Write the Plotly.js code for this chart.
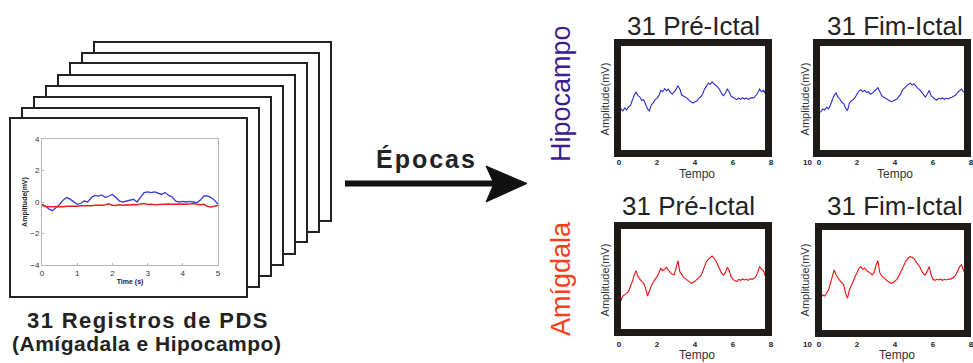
<!DOCTYPE html>
<html><head><meta charset="utf-8">
<script src="https://cdn.plot.ly/plotly-3.0.1.min.js"></script>
<style>html,body{margin:0;padding:0;background:#fff;}#chart{width:973px;height:363px;}</style>
</head><body><div id="chart"></div>
<script>
// ---------- data ----------
const timeS = [0.0,0.1,0.2,0.3,0.4,0.5,0.6,0.7,0.8,0.9,1.0,1.1,1.2,1.3,1.4,1.5,1.6,1.7,1.8,1.9,2.0,2.1,2.2,2.3,2.4,2.5,2.6,2.7,2.8,2.9,3.0,3.1,3.2,3.3,3.4,3.5,3.6,3.7,3.8,3.9,4.0,4.1,4.2,4.3,4.4,4.5,4.6,4.7,4.8,4.9,5.0];
const blueRecord = [-0.15,-0.25,-0.45,-0.55,-0.35,-0.15,0.12,0.28,0.18,0.0,-0.15,-0.08,0.06,0.0,0.28,0.42,0.38,0.45,0.28,0.38,0.48,0.28,0.06,0.0,0.06,0.12,0.17,0.0,0.28,0.6,0.64,0.6,0.64,0.55,0.48,0.6,0.42,0.32,0.06,0.0,0.04,0.0,0.04,0.0,-0.04,0.12,0.38,0.38,0.28,0.12,-0.15];
const redRecord = [-0.2,-0.28,-0.3,-0.32,-0.3,-0.28,-0.3,-0.27,-0.28,-0.25,-0.27,-0.24,-0.25,-0.22,-0.24,-0.21,-0.22,-0.2,-0.17,-0.12,-0.2,-0.22,-0.18,-0.2,-0.17,-0.19,-0.16,-0.18,-0.12,-0.1,-0.16,-0.14,-0.17,-0.15,-0.13,-0.14,-0.12,-0.14,-0.12,-0.14,-0.12,-0.15,-0.13,-0.1,-0.14,-0.18,-0.15,-0.28,-0.32,-0.25,-0.22];

const tempo = [0.0,0.1,0.2,0.3,0.4,0.5,0.6,0.7,0.8,0.9,1.0,1.1,1.2,1.3,1.4,1.5,1.6,1.7,1.8,1.9,2.0,2.1,2.2,2.3,2.4,2.5,2.6,2.7,2.8,2.9,3.0,3.1,3.2,3.3,3.4,3.5,3.6,3.7,3.8,3.9,4.0,4.1,4.2,4.3,4.4,4.5,4.6,4.7,4.8,4.9,5.0,5.1,5.2,5.3,5.4,5.5,5.6,5.7,5.8,5.9,6.0,6.1,6.2,6.3,6.4,6.5,6.6,6.7,6.8,6.9,7.0,7.1,7.2,7.3,7.4,7.5,7.6,7.7,7.8];
const hipoPre = [-0.38,-0.30,-0.36,-0.27,-0.33,-0.24,-0.20,-0.05,0.12,0.20,0.10,0.06,-0.04,-0.02,-0.18,-0.30,-0.36,-0.18,-0.12,-0.02,0.02,0.10,0.26,0.22,0.31,0.25,0.30,0.20,0.15,0.22,0.28,0.40,0.30,0.12,0.08,0.04,0.02,-0.05,-0.08,-0.12,-0.08,-0.06,0.02,0.06,0.15,0.30,0.38,0.48,0.44,0.52,0.46,0.42,0.36,0.28,0.16,0.10,0.18,0.30,0.22,0.08,0.04,0.02,-0.02,0.03,-0.01,0.04,0.00,0.03,-0.02,0.02,0.04,0.03,0.10,0.18,0.30,0.22,0.26,0.15,0.08];
const hipoFim = [-0.42,-0.38,-0.30,-0.33,-0.25,-0.30,-0.18,0.00,0.12,0.18,0.05,0.00,-0.10,-0.14,-0.28,-0.35,-0.12,-0.06,-0.02,0.05,0.15,0.24,0.28,0.22,0.26,0.20,0.22,0.14,0.18,0.22,0.28,0.34,0.20,0.10,0.06,0.02,-0.02,-0.05,-0.08,-0.06,-0.02,0.00,0.08,0.14,0.28,0.34,0.40,0.44,0.48,0.42,0.46,0.38,0.32,0.28,0.20,0.14,0.06,0.15,0.26,0.10,0.04,0.00,-0.03,0.02,0.00,0.03,-0.01,0.02,0.00,0.04,0.05,0.08,0.12,0.20,0.25,0.30,0.22,0.16,0.12];
const amigPre = [-0.50,-0.62,-0.48,-0.45,-0.40,-0.34,-0.22,-0.05,0.15,0.28,0.10,0.02,-0.05,-0.10,-0.25,-0.48,-0.30,-0.18,-0.06,0.02,0.10,0.22,0.35,0.28,0.32,0.38,0.30,0.22,0.18,0.15,0.35,0.58,0.25,0.15,0.08,0.04,0.00,-0.06,-0.10,-0.07,-0.04,0.02,0.06,0.12,0.25,0.42,0.55,0.62,0.68,0.72,0.65,0.58,0.45,0.30,0.20,0.15,0.22,0.38,0.28,0.10,0.02,-0.02,-0.05,0.02,-0.01,0.03,0.00,0.02,-0.01,0.04,0.02,0.05,0.10,0.22,0.40,0.32,0.28,0.12,0.05];
const amigFim = [-0.62,-0.55,-0.45,-0.48,-0.38,-0.30,-0.10,0.10,0.30,0.15,0.05,-0.02,-0.08,-0.15,-0.40,-0.55,-0.30,-0.15,-0.05,0.10,0.22,0.35,0.40,0.32,0.36,0.28,0.25,0.20,0.15,0.22,0.45,0.58,0.22,0.12,0.08,0.02,-0.03,-0.06,-0.10,-0.08,-0.04,0.02,0.12,0.25,0.38,0.50,0.60,0.66,0.70,0.68,0.64,0.55,0.48,0.40,0.28,0.18,0.15,0.28,0.40,0.15,0.02,-0.01,0.02,0.00,0.03,-0.01,0.02,0.00,0.03,0.02,0.05,0.08,0.15,0.28,0.40,0.45,0.30,0.15,0.02];

const leftXTicks = [0,1,2,3,4,5];
const leftYTicks = [-4,-2,0,2,4];
const tempoTicks = [0,2,4,6,8];

// ---------- helpers (pixel -> paper) ----------
const W = 973, H = 363;
const fx = p => p / W;
const fy = p => 1 - p / H;
const domX = (a, b) => [a / W, b / W];
const domY = (top, bottom) => [1 - bottom / H, 1 - top / H];

const BLUE = '#2a2ad0', RED = '#ee1010';
const FAM = 'Liberation Sans, Arial, sans-serif';

const traces = [
  {x: timeS, y: blueRecord, xaxis: 'x', yaxis: 'y', mode: 'lines', line: {color: '#3b3bd8', width: 1.3}},
  {x: timeS, y: redRecord, xaxis: 'x', yaxis: 'y', mode: 'lines', line: {color: '#e3241c', width: 1.5}},
  {x: tempo, y: hipoPre, xaxis: 'x2', yaxis: 'y2', mode: 'lines', line: {color: BLUE, width: 1.1}},
  {x: tempo, y: hipoFim, xaxis: 'x3', yaxis: 'y3', mode: 'lines', line: {color: BLUE, width: 1.1}},
  {x: tempo, y: amigPre, xaxis: 'x4', yaxis: 'y4', mode: 'lines', line: {color: RED, width: 1.1}},
  {x: tempo, y: amigFim, xaxis: 'x5', yaxis: 'y5', mode: 'lines', line: {color: RED, width: 1.1}}
];

function smallX(dom, anchor, ticklen) {
  return {domain: dom, anchor: anchor, range: [0, 8], tickvals: tempoTicks, showline: false, showgrid: false,
    zeroline: false, ticks: 'outside', ticklen: ticklen, tickcolor: 'rgba(0,0,0,0)', ticklabeloverflow: 'allow',
    tickfont: {size: 8, weight: 'bold', color: '#222', family: FAM}};
}
function smallY(dom, anchor, rng) {
  return {domain: dom, anchor: anchor, range: rng, showticklabels: false, showgrid: false, zeroline: false,
    showline: false, ticks: '',
    title: {text: 'Amplitude(mV)', font: {size: 11, color: '#333', family: FAM}, standoff: 6}};
}

const layout = {
  width: W, height: H, margin: {l: 0, r: 0, t: 0, b: 0},
  paper_bgcolor: '#fff', plot_bgcolor: 'rgba(0,0,0,0)', showlegend: false,
  font: {family: FAM, color: '#222'},
  xaxis: {domain: domX(42, 218), anchor: 'y', range: [0, 5], tickvals: leftXTicks, showline: true, mirror: true,
    linecolor: '#b5b5b5', linewidth: 1, ticks: 'inside', ticklen: 2, tickcolor: '#b5b5b5', showgrid: false, zeroline: false,
    tickfont: {size: 8, color: '#333'}, title: {text: 'Time (s)', font: {size: 7, color: '#222', weight: 'bold'}, standoff: 2}},
  yaxis: {domain: domY(139, 265), anchor: 'x', range: [-4, 4], tickvals: leftYTicks, showline: true, mirror: true,
    linecolor: '#b5b5b5', linewidth: 1, ticks: 'inside', ticklen: 2, tickcolor: '#b5b5b5', showgrid: false, zeroline: false,
    tickfont: {size: 8, color: '#333'}, title: {text: 'Amplitude(mV)', font: {size: 7, color: '#222', weight: 'bold'}, standoff: 1}},
  xaxis2: smallX(domX(619, 771), 'y2', 2),
  yaxis2: smallY(domY(46, 152), 'x2', [-1.6, 1.6]),
  xaxis3: smallX(domX(819, 971), 'y3', 2),
  yaxis3: smallY(domY(46, 152), 'x3', [-1.6, 1.6]),
  xaxis4: smallX(domX(619, 771), 'y4', 4),
  yaxis4: smallY(domY(228, 332), 'x4', [-1.56, 1.56]),
  xaxis5: smallX(domX(819, 971), 'y5', 4),
  yaxis5: smallY(domY(228, 332), 'x5', [-1.56, 1.56]),
  shapes: [],
  annotations: []
};

// stacked record frames (back to front)
const frameOrigins = [[94,42],[82,53],[70,63],[58,75],[46,86],[34,97],[22,108],[10,118]];
frameOrigins.forEach(([x, y]) => {
  layout.shapes.push({type: 'rect', xref: 'paper', yref: 'paper', layer: 'below',
    x0: fx(x), x1: fx(x + 237), y0: fy(y), y1: fy(y + 179),
    line: {color: '#222', width: 2}, fillcolor: '#fff'});
});

// thick frames around the epoch plots
[[617.5,42.5,768.5,153.5],[816.5,42.5,967.5,153.5],[617.5,225.5,768.5,332.5],[818.5,226.5,967.5,333.5]].forEach(([a,b,c,d]) => {
  layout.shapes.push({type: 'rect', xref: 'paper', yref: 'paper', layer: 'above',
    x0: fx(a), x1: fx(c), y0: fy(b), y1: fy(d), line: {color: '#1e1b18', width: 7}});
});

// arrow
layout.shapes.push({type: 'line', xref: 'paper', yref: 'paper', x0: fx(345), x1: fx(495), y0: fy(183.5), y1: fy(183.5),
  line: {color: '#111', width: 6}});
layout.shapes.push({type: 'path', xref: 'paper', yref: 'paper',
  path: `M ${fx(486)} ${fy(166)} L ${fx(527)} ${fy(183.5)} L ${fx(486)} ${fy(202)} L ${fx(494)} ${fy(183.5)} Z`,
  fillcolor: '#111', line: {color: '#111', width: 1}});

function ann(text, x, y, size, opts) {
  layout.annotations.push(Object.assign({text: text, xref: 'paper', yref: 'paper', x: fx(x), y: fy(y),
    xanchor: 'center', yanchor: 'middle', showarrow: false, borderpad: 0,
    font: {size: size, color: '#222', family: FAM}}, opts || {}));
}
ann('31 Pré-Ictal', 693, 26, 26);
ann('31 Fim-Ictal', 895, 26, 26);
ann('31 Pré-Ictal', 688, 206, 26);
ann('31 Fim-Ictal', 895, 206, 26);
// x-axis titles of the epoch plots
const tempoFont = {size: 12, color: '#333', family: FAM};
ann('Tempo', 697, 174, 12, {font: tempoFont});
ann('Tempo', 895, 174, 12, {font: tempoFont});
ann('Tempo', 697, 355, 12, {font: tempoFont});
ann('Tempo', 897, 355, 12, {font: tempoFont});
ann('Hipocampo', 561, 94, 27, {textangle: -90, font: {size: 27, color: '#3d1c8f', family: FAM}});
ann('Amígdala', 561, 279, 27, {textangle: -90, font: {size: 27, color: '#f5401a', family: FAM}});
ann('<span style="letter-spacing:2px">Épocas</span>', 426, 159, 25, {font: {size: 25, color: '#222', weight: 'bold', family: FAM}});
ann('<span style="letter-spacing:1.4px">31 Registros de PDS</span>', 148, 320, 22, {font: {size: 22, color: '#222', weight: 'bold', family: FAM}});
ann('<span style="letter-spacing:0.5px">(Amígadala e Hipocampo)</span>', 146, 343, 21, {font: {size: 21, color: '#222', weight: 'bold', family: FAM}});
ann('10', 807, 162.5, 8, {font: {size: 8, color: '#222', weight: 'bold', family: FAM}});
ann('10', 807, 344.5, 8, {font: {size: 8, color: '#222', weight: 'bold', family: FAM}});

Plotly.newPlot('chart', traces, layout, {staticPlot: true, displayModeBar: false});
</script>
</body></html>
